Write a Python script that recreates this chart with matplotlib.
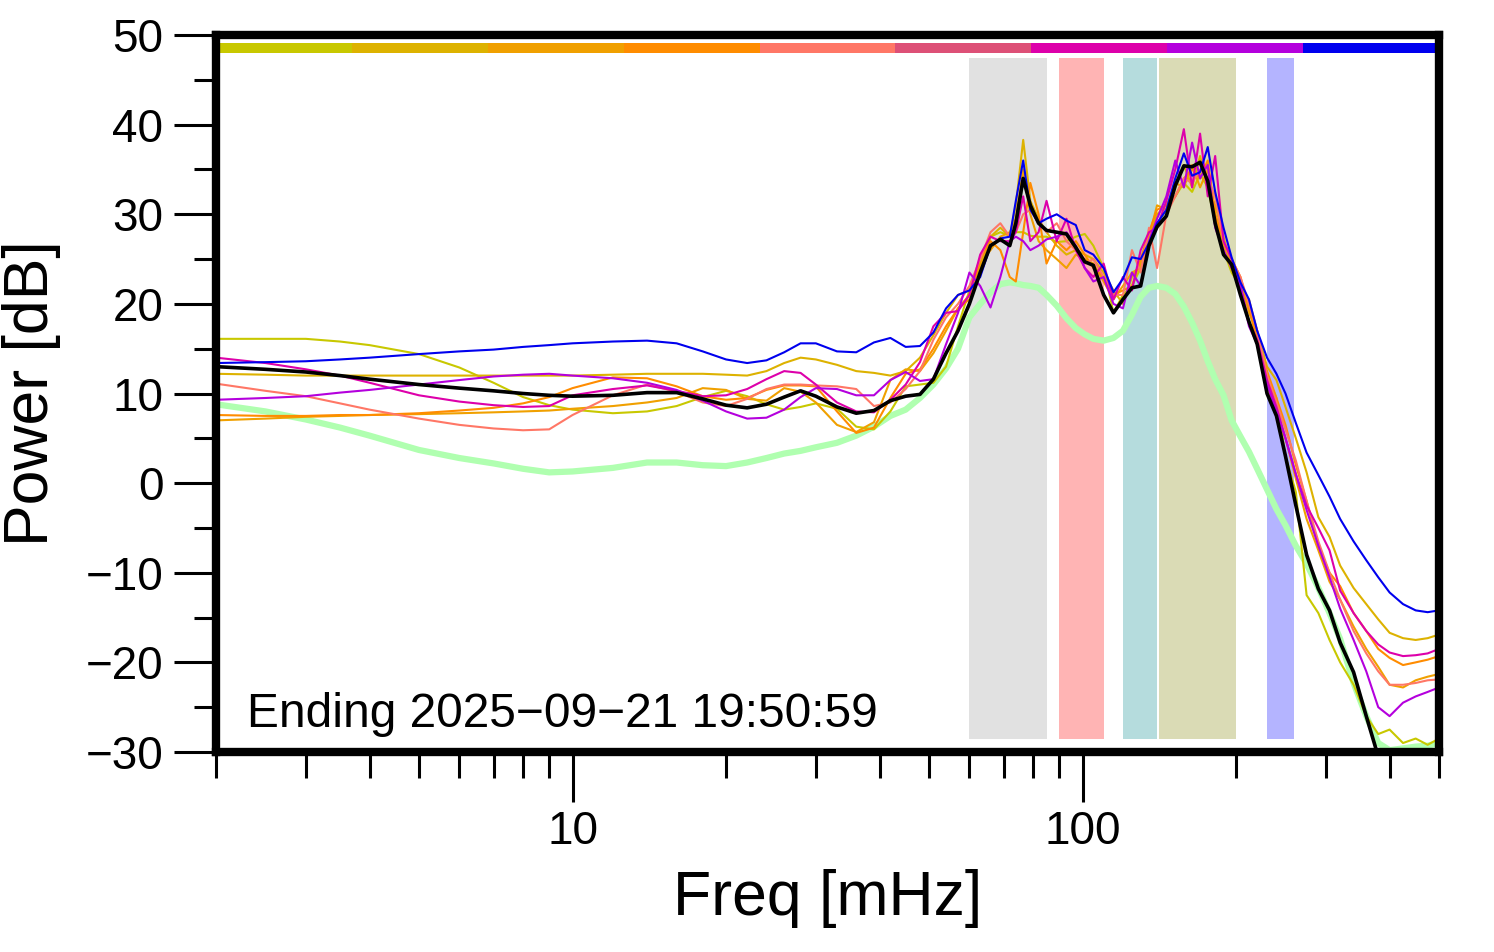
import numpy as np
import matplotlib
matplotlib.use('Agg')
import matplotlib.pyplot as plt
from matplotlib.ticker import MultipleLocator, LogLocator, NullFormatter, FixedLocator, FixedFormatter

plt.rcParams['font.family'] = ['Liberation Sans', 'DejaVu Sans']

# ============================================================
# DATA
# ============================================================

freq = [2, 2.5, 3, 3.5, 4,
        5, 6, 7, 8, 9,
        10, 12, 14, 16, 18,
        20, 22, 24, 26, 28,
        30, 33, 36, 39, 42,
        45, 48, 51, 54, 57,
        60, 63, 66, 69, 72,
        74, 76.5, 79, 82, 85,
        89, 93, 97, 101, 105,
        110, 115, 120, 125, 130,
        135, 140, 146, 152, 158,
        164, 170, 176, 182, 189,
        196, 204, 212, 220, 230,
        240, 250, 262, 275, 290,
        305, 320, 340, 360, 380,
        400, 425, 450, 475, 500]

p_yellow = [16.1, 16.1, 16.1, 15.8, 15.4,
            14.4, 12.9, 11.2, 9.6, 8.7,
            8.2, 7.8, 8.0, 8.6, 9.6,
            10.3, 9.7, 8.8, 8.2, 8.5,
            8.9, 8.3, 6.3, 6.0, 8.0,
            10.8, 11.0, 11.2, 13.0, 17.5,
            21.5, 24.5, 27.5, 28.0, 27.6,
            28.0, 28.0, 27.6, 27.5, 27.5,
            26.9, 27.0, 27.5, 27.8, 26.5,
            24.0, 19.0, 21.0, 22.0, 24.0,
            27.0, 29.0, 30.5, 32.0, 33.5,
            32.5, 34.5, 33.0, 29.0, 26.0,
            23.5, 22.0, 19.5, 16.0, 12.0,
            9.5, 3.0, -1.0, -12.5, -14.5,
            -17.5, -20.0, -22.5, -26.0, -28.0,
            -27.5, -29.0, -28.5, -29.2, -28.5]

p_gold = [12.2, 12.1, 12.0, 12.0, 12.0,
          12.0, 12.0, 12.0, 12.0, 12.0,
          12.0, 12.1, 12.2, 12.2, 12.2,
          12.1, 12.0, 12.5, 13.4, 14.0,
          13.8, 13.2, 12.5, 12.3, 12.0,
          12.5, 14.0, 16.5, 19.0, 21.0,
          21.5, 24.0, 27.5, 28.5, 27.5,
          31.0, 38.3, 31.5, 29.5, 28.0,
          26.5, 25.5, 26.0, 25.5, 25.0,
          23.5, 21.5, 20.0, 23.0, 24.5,
          27.0, 30.0, 31.0, 33.0, 35.5,
          33.0, 36.5, 33.0, 31.0, 27.5,
          24.0, 22.5, 19.0, 17.0, 13.0,
          11.5, 8.5, 5.0, 1.2, -3.8,
          -6.0, -9.2, -11.7, -13.5, -15.2,
          -16.7, -17.3, -17.5, -17.3, -16.9]

p_orange_lt = [7.0, 7.2, 7.4, 7.5, 7.6,
               7.7, 7.8, 7.9, 8.0, 8.1,
               8.3, 8.6, 9.0, 9.5, 10.6,
               10.4, 9.4, 9.2, 10.6, 10.2,
               9.0, 6.5, 5.7, 6.8, 11.5,
               12.7, 12.5, 14.5, 17.0, 19.5,
               21.0, 24.5, 26.0, 27.5, 28.0,
               29.5, 35.0, 30.0, 27.0, 26.0,
               25.0, 24.0, 25.5, 25.0, 24.5,
               22.5, 20.5, 22.0, 23.5, 24.0,
               27.5, 31.0, 30.5, 33.5, 33.0,
               35.5, 33.0, 35.0, 30.0, 26.5,
               24.0, 21.5, 20.5, 17.0, 10.5,
               8.0, 5.0, 0.5, -4.0, -7.5,
               -11.0, -13.0, -16.0, -18.5, -20.5,
               -22.5, -22.8, -22.0, -21.6, -21.3]

p_orange = [7.6, 7.5, 7.5, 7.6, 7.6,
            7.8, 8.1, 8.4, 8.9, 9.6,
            10.6, 11.8, 11.7, 10.8, 9.7,
            9.3, 9.5, 10.4, 10.9, 10.9,
            10.8, 8.0, 5.6, 6.2, 9.5,
            12.2, 12.7, 15.0, 17.5, 19.5,
            20.5, 25.0, 27.0, 26.0, 23.0,
            22.5, 28.0, 33.5, 30.0, 24.5,
            27.0, 26.0, 27.0, 25.5, 24.0,
            23.0, 21.0, 21.5, 22.0, 25.0,
            28.0, 30.5, 31.0, 32.0, 34.0,
            35.0, 34.0, 36.0, 30.0, 27.0,
            25.0, 23.0, 19.5, 16.0, 12.5,
            9.5, 6.5, 2.0, -2.0, -7.0,
            -10.0, -11.5, -14.5, -16.5, -18.5,
            -19.5, -20.3, -20.0, -19.7, -19.3]

p_salmon = [11.1, 10.3, 9.7, 8.9, 8.2,
            7.2, 6.5, 6.1, 5.9, 6.0,
            7.6, 9.8, 11.0, 10.2, 9.0,
            8.6, 9.4, 10.5, 11.0, 11.0,
            10.9, 10.8, 10.5, 8.6, 9.0,
            10.5, 12.5, 16.0, 18.5, 20.0,
            22.0, 25.0, 28.0, 29.0, 27.5,
            28.0, 30.0, 30.5, 29.0, 28.0,
            29.0, 27.0, 26.0, 24.5, 25.0,
            23.0, 21.0, 21.0, 26.0, 23.5,
            28.5, 24.0, 30.0, 32.0, 34.0,
            33.5, 35.0, 34.0, 32.0, 27.0,
            25.0, 23.0, 20.0, 17.0, 12.0,
            9.0, 6.0, 2.5, -2.0, -6.5,
            -10.0, -13.0, -16.5, -19.0, -21.0,
            -22.5, -22.5, -22.3, -22.0, -21.9]

p_magenta = [14.0, 13.4, 12.7, 12.0, 11.2,
             9.8, 9.1, 8.7, 8.5, 8.6,
             9.8, 10.5, 10.9, 10.3, 9.7,
             9.8, 10.5, 11.6, 12.5, 12.3,
             11.0, 9.0, 8.0, 7.9, 9.3,
             11.0, 13.5, 17.5, 19.0, 19.2,
             21.0, 25.5, 27.5, 27.0, 27.0,
             28.0, 32.0, 27.0, 28.0, 31.5,
             27.0, 29.5, 26.0, 24.0, 23.0,
             24.5, 20.5, 23.0, 21.5, 26.0,
             28.0, 28.5, 31.5, 35.0, 39.5,
             33.0, 39.0, 32.0, 36.5, 27.0,
             25.0, 22.0, 18.0, 16.0, 11.5,
             8.5, 5.0, 1.0, -2.5, -5.0,
             -7.5, -12.0, -14.5, -16.5, -18.0,
             -18.9, -19.3, -19.2, -19.0, -18.5]

p_purple = [9.3, 9.5, 9.7, 10.1, 10.4,
            11.0, 11.5, 11.9, 12.1, 12.2,
            12.0, 11.7, 11.2, 10.4, 9.2,
            8.0, 7.2, 7.3, 8.2, 9.6,
            10.6, 10.5, 9.8, 9.8, 11.5,
            12.4, 11.4, 11.6, 15.5, 19.0,
            23.5, 22.0, 19.6, 23.0, 27.0,
            27.5, 27.0, 26.0, 26.5, 27.2,
            27.5, 28.0, 26.5, 24.0, 22.5,
            23.0, 20.0, 19.5, 23.5, 22.0,
            27.0, 29.5, 32.0, 36.0, 33.0,
            38.0, 34.0, 35.5, 28.5, 26.0,
            24.0, 22.0, 17.5, 15.5, 11.0,
            8.0, 5.0, 1.0, -3.0, -7.0,
            -10.5, -14.0, -17.5, -21.0, -25.0,
            -26.0, -24.5, -23.8, -23.3, -22.8]

p_blue = [13.4, 13.5, 13.6, 13.8, 14.0,
          14.4, 14.7, 14.9, 15.2, 15.4,
          15.6, 15.8, 15.9, 15.6, 14.7,
          13.8, 13.4, 13.7, 14.6, 15.6,
          15.6, 14.7, 14.6, 15.7, 16.2,
          15.2, 15.3, 16.8, 19.5, 21.0,
          21.5, 23.0, 26.5, 27.3, 27.5,
          31.5, 36.0, 30.5, 29.0, 29.5,
          30.0, 29.3, 28.8, 26.0, 25.5,
          24.0, 21.3, 22.8, 25.2, 25.0,
          26.8, 29.0, 30.5, 34.0, 36.8,
          34.3, 34.7, 37.5, 32.5, 28.5,
          25.2, 22.4, 20.5, 17.0, 14.0,
          12.2, 10.0, 6.7, 3.4, 0.9,
          -1.5, -4.0, -6.5, -8.6, -10.5,
          -12.2, -13.5, -14.2, -14.4, -14.2]

p_mean = [13.0, 12.7, 12.4, 12.0, 11.6,
          11.0, 10.6, 10.3, 10.0, 9.8,
          9.7, 9.8, 10.1, 10.1, 9.4,
          8.7, 8.4, 8.8, 9.6, 10.3,
          9.7, 8.5, 7.8, 8.1, 9.2,
          9.7, 9.9, 11.6, 14.5, 17.0,
          20.0, 23.5, 26.5, 27.2, 26.5,
          29.0, 34.0, 31.0, 29.0, 28.2,
          28.0, 27.8, 26.3, 24.7, 24.3,
          21.0, 19.0, 20.5, 21.8, 22.0,
          26.5, 28.6, 29.8, 33.2, 35.4,
          35.3, 35.8, 33.7, 29.0, 25.5,
          24.4, 21.0, 18.0, 15.5, 10.0,
          7.5, 3.0, -2.5, -8.0, -11.8,
          -14.2, -17.8, -21.1, -26.0, -30.5,
          -32.0, -33.0, -33.0, -33.0, -33.0]

p_model = [8.8, 8.0, 7.1, 6.2, 5.3,
           3.7, 2.8, 2.2, 1.6, 1.2,
           1.3, 1.7, 2.3, 2.3, 2.0,
           1.9, 2.3, 2.8, 3.3, 3.6,
           4.0, 4.5, 5.3, 6.3, 7.5,
           8.2, 9.5, 11.0, 12.8, 15.0,
           18.5, 20.0, 21.3, 22.2, 22.4,
           22.3, 22.1, 22.0, 21.8, 21.0,
           19.8, 18.4, 17.3, 16.6, 16.1,
           15.9, 16.2, 17.0, 18.8, 20.8,
           21.8, 22.0, 21.8, 21.1, 19.7,
           17.9, 15.9, 13.6, 11.6, 9.8,
           7.0, 5.2, 3.5, 1.6, -0.7,
           -2.9, -4.7, -7.0, -9.0, -11.7,
           -14.5, -17.4, -22.3, -26.0, -29.0,
           -29.8, -29.6, -29.4, -29.3, -29.0]

series = [p_yellow, p_gold, p_orange_lt, p_orange, p_salmon, p_magenta, p_purple, p_blue]
series_colors = ['#c8c800', '#ddb200', '#f0a000', '#ff8c00', '#ff7766', '#dd00aa', '#b400dd', '#0000ee']

# colour strip across the top
bar_colors = ['#c8c800', '#ddb200', '#f0a000', '#ff8c00', '#ff7766',
              '#dd5077', '#dd00aa', '#b400dd', '#0000ee']

# shaded frequency bands [mHz]
band_lo = [60, 90, 120, 141, 230]
band_hi = [85, 110, 140, 200, 260]
band_colors = ['#e1e1e1', '#ffb4b4', '#b5dcdd', '#dadbb5', '#b4b4ff']

# ============================================================
# FIGURE
# ============================================================

fig = plt.figure(figsize=(14.94, 9.52), dpi=100)
ax = fig.add_axes([0.1446, 0.2101, 0.8186, 0.7531])
ax.set_xscale('log')
ax.set_xlim(2, 500)
ax.set_ylim(-30, 50)

for lo, hi, c in zip(band_lo, band_hi, band_colors):
    ax.fill_between([lo, hi], -28.6, 47.4, color=c, lw=0, zorder=1)

n = len(bar_colors)
for i, c in enumerate(bar_colors):
    ax.axhspan(48.0, 49.1, xmin=i / n, xmax=(i + 1) / n, color=c, lw=0, zorder=2)

ax.plot(freq, p_model, color='#b0ffb0', lw=4.5, zorder=3)
for s, c in zip(series, series_colors):
    ax.plot(freq, s, color=c, lw=1.5, zorder=4)
ax.plot(freq, p_mean, color='black', lw=2.6, zorder=5)

# axes styling
for spine in ax.spines.values():
    spine.set_linewidth(6)
    spine.set_zorder(10)

ax.yaxis.set_major_locator(MultipleLocator(10))
ax.yaxis.set_minor_locator(MultipleLocator(5))
ax.xaxis.set_major_locator(FixedLocator([10, 100]))
ax.xaxis.set_major_formatter(FixedFormatter(['10', '100']))
ax.xaxis.set_minor_locator(LogLocator(base=10, subs=np.arange(2, 10), numticks=20))
ax.xaxis.set_minor_formatter(NullFormatter())

ax.tick_params(axis='y', which='major', direction='out', length=30, width=2.2, labelsize=33, pad=8)
ax.tick_params(axis='y', which='minor', direction='out', length=16, width=2.2)
ax.tick_params(axis='x', which='major', direction='out', length=36, width=2.2, labelsize=33, pad=6)
ax.tick_params(axis='x', which='minor', direction='out', length=19, width=2.2)

ax.set_xlabel('Freq [mHz]', fontsize=45)
ax.set_ylabel('Power [dB]', fontsize=45)
ax.xaxis.set_label_coords(0.5, -0.163)
ax.yaxis.set_label_coords(-0.127, 0.5)

ax.text(0.0253, 0.035, 'Ending 2025\u221209\u221221 19:50:59', transform=ax.transAxes,
        fontsize=34.5, ha='left', va='baseline', zorder=6)

fig.savefig('out.png', dpi=100)
